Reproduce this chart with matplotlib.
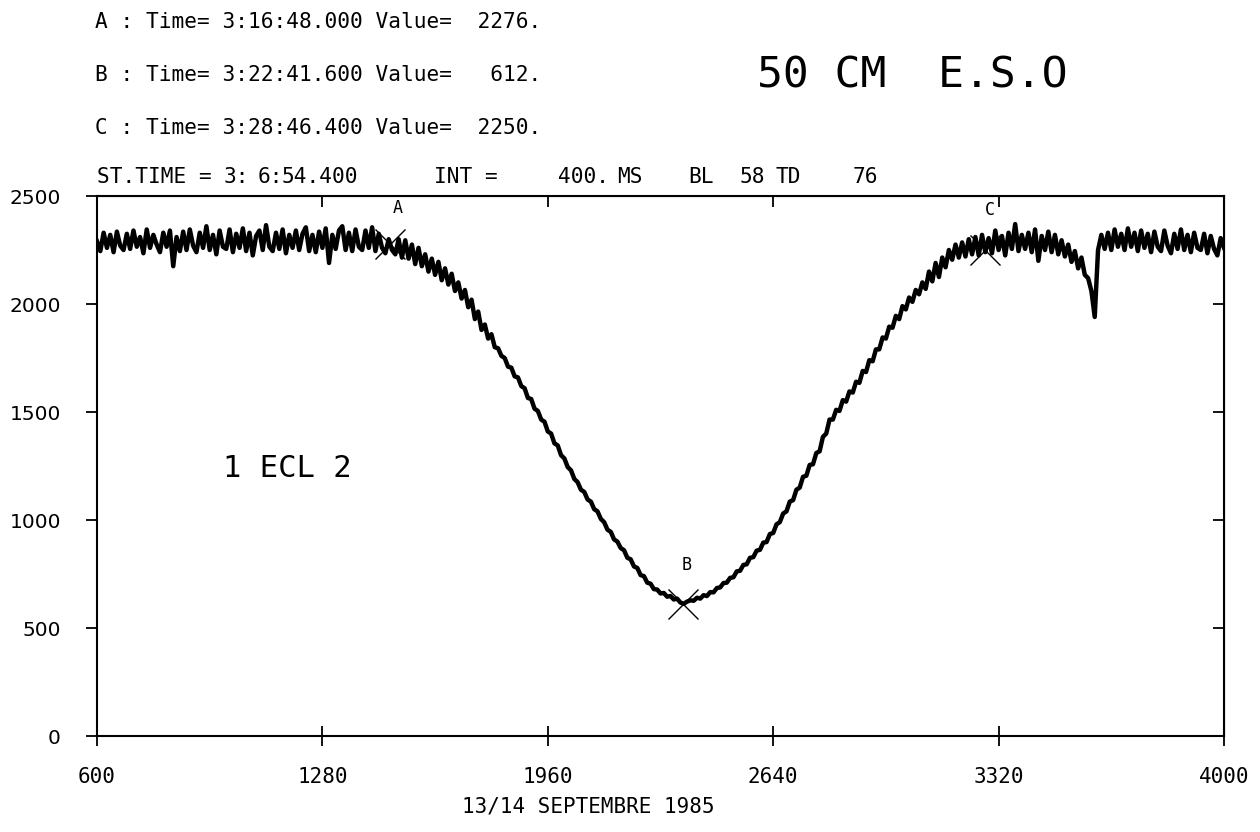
import matplotlib
matplotlib.use("Agg")
import matplotlib.pyplot as plt
import numpy as np

# Light curve, one reading every 10 samples
x_start = 600
x_step = 10
counts = [
    2290, 2245, 2330, 2260, 2320, 2240, 2335, 2270, 2250, 2325,   # 600
    2255, 2340, 2265, 2310, 2235, 2345, 2260, 2320, 2275, 2240,   # 700
    2330, 2265, 2340, 2175, 2310, 2245, 2335, 2250, 2345, 2270,   # 800
    2240, 2330, 2260, 2360, 2250, 2320, 2230, 2340, 2265, 2255,   # 900
    2345, 2240, 2325, 2260, 2350, 2245, 2330, 2225, 2315, 2340,   # 1000
    2250, 2365, 2265, 2245, 2330, 2255, 2345, 2235, 2320, 2260,   # 1100
    2340, 2250, 2325, 2355, 2245, 2320, 2240, 2335, 2260, 2350,   # 1200
    2190, 2320, 2255, 2340, 2360, 2250, 2330, 2245, 2345, 2265,   # 1300
    2250, 2340, 2260, 2355, 2245, 2325, 2260, 2235, 2300, 2250,   # 1400
    2230, 2300, 2215, 2295, 2210, 2275, 2185, 2260, 2175, 2230,   # 1500
    2150, 2210, 2135, 2195, 2110, 2165, 2090, 2140, 2060, 2100,   # 1600
    2025, 2065, 1985, 2020, 1930, 1965, 1880, 1905, 1840, 1860,   # 1700
    1800, 1795, 1760, 1750, 1710, 1705, 1665, 1660, 1620, 1610,   # 1800
    1565, 1560, 1515, 1505, 1465, 1455, 1410, 1400, 1355, 1345,   # 1900
    1300, 1285, 1245, 1230, 1190, 1175, 1140, 1130, 1095, 1085,   # 2000
    1050, 1040, 1005, 990, 955, 945, 910, 900, 870, 860,          # 2100
    825, 818, 785, 778, 745, 740, 710, 705, 680, 678,             # 2200
    660, 662, 645, 648, 632, 636, 618, 612, 622, 628,             # 2300
    626, 640, 636, 652, 648, 666, 665, 685, 688, 708,             # 2400
    710, 732, 735, 762, 765, 792, 795, 825, 828, 858,             # 2500
    862, 895, 898, 935, 940, 980, 990, 1030, 1040, 1085,          # 2600
    1092, 1140, 1150, 1200, 1205, 1255, 1258, 1310, 1318, 1385,   # 2700
    1400, 1465, 1465, 1510, 1505, 1555, 1548, 1595, 1590, 1640,   # 2800
    1635, 1690, 1685, 1740, 1735, 1790, 1790, 1845, 1840, 1895,   # 2900
    1890, 1945, 1930, 1990, 1975, 2030, 2010, 2065, 2045, 2100,   # 3000
    2070, 2150, 2105, 2190, 2125, 2215, 2170, 2250, 2205, 2275,   # 3100
    2215, 2285, 2220, 2300, 2230, 2310, 2225, 2320, 2240, 2305,   # 3200
    2235, 2340, 2250, 2315, 2225, 2330, 2255, 2370, 2245, 2320,   # 3300
    2255, 2330, 2240, 2345, 2200, 2315, 2250, 2335, 2240, 2320,   # 3400
    2230, 2295, 2220, 2275, 2195, 2245, 2165, 2215, 2135, 2120,   # 3500
    2060, 1940, 2250, 2320, 2255, 2330, 2250, 2345, 2265, 2325,   # 3600
    2250, 2350, 2265, 2330, 2245, 2340, 2260, 2325, 2240, 2335,   # 3700
    2265, 2245, 2340, 2270, 2235, 2325, 2255, 2345, 2250, 2320,   # 3800
    2240, 2330, 2260, 2250, 2325, 2235, 2315, 2255, 2225, 2305,   # 3900
    2260,                                                         # 4000
]
samples = x_start + x_step * np.arange(len(counts))

# Cursor points A, B, C
mark_names = ["A", "B", "C"]
mark_x = [1484, 2368, 3280]
mark_y = [2276, 612, 2250]

xticks = [600, 1280, 1960, 2640, 3320, 4000]
yticks = [0, 500, 1000, 1500, 2000, 2500]

header_lines = [
    "A : Time= 3:16:48.000 Value=  2276.",
    "B : Time= 3:22:41.600 Value=   612.",
    "C : Time= 3:28:46.400 Value=  2250.",
]
# status line pieces and their left edge in pixels
status_parts = ["ST.TIME =", "3:", "6:", "54.400", "INT =", "400.", "MS", "BL", "58", "TD", "76"]
status_px = [97, 224, 258, 282, 434, 558, 617, 688, 740, 775, 853]

mono = "DejaVu Sans Mono"

fig = plt.figure(figsize=(12.6, 8.32), dpi=100)
ax = fig.add_axes([97 / 1260, 1 - 736 / 832, (1224 - 97) / 1260, (736 - 196) / 832])

ax.plot(samples, counts, color="black", lw=3.2)
ax.plot(mark_x, mark_y, "x", color="black", ms=22, mew=1.0)

label_off = {"A": (24, 168), "B": (12, 178), "C": (14, 185)}
for name, mx, my in zip(mark_names, mark_x, mark_y):
    dx, dy = label_off[name]
    ax.text(mx + dx, my + dy, name, fontsize=12, family=mono, ha="center", va="center")

ax.text(1173, 1240, "1 ECL 2", fontsize=22, family=mono, ha="center", va="center")

ax.set_xlim(600, 4000)
ax.set_ylim(0, 2500)
ax.set_xticks(xticks)
ax.set_yticks(yticks)
ax.set_xticklabels([str(t) for t in xticks], family=mono, fontsize=15)
ax.set_yticklabels([str(t) for t in yticks], fontsize=14.5)
ax.tick_params(axis="x", direction="inout", length=14, width=1.3, pad=15)
ax.tick_params(axis="y", direction="out", length=8, width=1.3, pad=18)
for sp in ax.spines.values():
    sp.set_linewidth(1.5)

# inward ticks on top and right
top = ax.secondary_xaxis("top")
top.set_xticks(xticks)
top.set_xticklabels([])
top.tick_params(direction="in", length=8, width=1.3)
right = ax.secondary_yaxis("right")
right.set_yticks(yticks)
right.set_yticklabels([])
right.tick_params(direction="in", length=8, width=1.3)

for i, line in enumerate(header_lines):
    fig.text(95 / 1260, 1 - (22 + 53 * i) / 832, line, family=mono, fontsize=15.2,
             ha="left", va="center")
for part, px in zip(status_parts, status_px):
    fig.text(px / 1260, 1 - 177 / 832, part, family=mono, fontsize=15.2,
             ha="left", va="center")
fig.text(757 / 1260, 1 - 75 / 832, "50 CM  E.S.O", family=mono, fontsize=31,
         ha="left", va="center")
fig.text(588 / 1260, 1 - 807 / 832, "13/14 SEPTEMBRE 1985", family=mono, fontsize=15,
         ha="center", va="center")

fig.savefig("out.png", dpi=100)
